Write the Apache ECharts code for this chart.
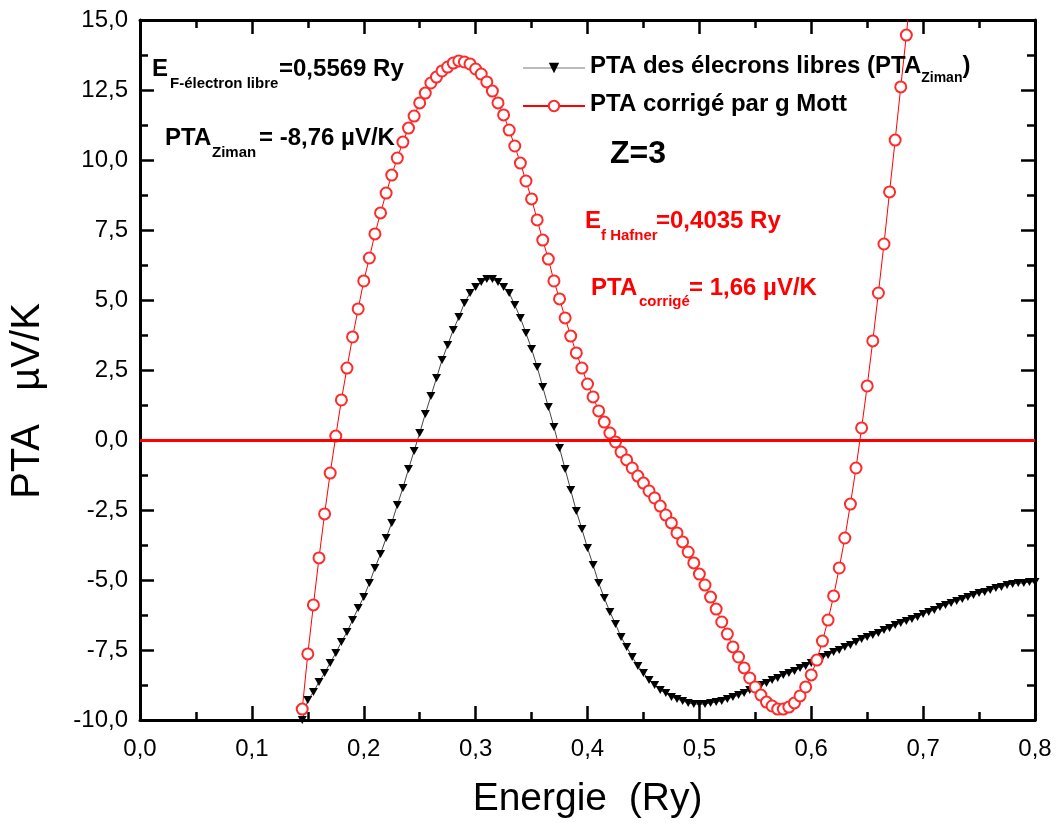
<!DOCTYPE html>
<html>
<head>
<meta charset="utf-8">
<script src="https://cdn.jsdelivr.net/npm/echarts@6/dist/echarts.min.js"></script>
<style>
html,body{margin:0;padding:0;background:#fff;}
#chart{width:1061px;height:830px;}
</style>
</head>
<body>
<div id="chart"></div>
<script>
// Energy grid (Ry)
var energy = [
0.145,0.150,0.155,0.160,0.165,0.170,0.175,0.180,0.185,0.190,
0.195,0.200,0.205,0.210,0.215,0.220,0.225,0.230,0.235,0.240,
0.245,0.250,0.255,0.260,0.265,0.270,0.275,0.280,0.285,0.290,
0.295,0.300,0.305,0.310,0.315,0.320,0.325,0.330,0.335,0.340,
0.345,0.350,0.355,0.360,0.365,0.370,0.375,0.380,0.385,0.390,
0.395,0.400,0.405,0.410,0.415,0.420,0.425,0.430,0.435,0.440,
0.445,0.450,0.455,0.460,0.465,0.470,0.475,0.480,0.485,0.490,
0.495,0.500,0.505,0.510,0.515,0.520,0.525,0.530,0.535,0.540,
0.545,0.550,0.555,0.560,0.565,0.570,0.575,0.580,0.585,0.590,
0.595,0.600,0.605,0.610,0.615,0.620,0.625,0.630,0.635,0.640,
0.645,0.650,0.655,0.660,0.665,0.670,0.675,0.680,0.685,0.690,
0.695,0.700,0.705,0.710,0.715,0.720,0.725,0.730,0.735,0.740,
0.745,0.750,0.755,0.760,0.765,0.770,0.775,0.780,0.785,0.790,
0.795,0.800
];
// PTA des électrons libres (Ziman), µV/K
var ptaZiman = [
-10.0,-9.29,-9.0,-8.64,-8.32,-7.96,-7.61,-7.21,-6.86,-6.43,
-6.0,-5.61,-5.11,-4.57,-4.07,-3.5,-2.96,-2.32,-1.71,-1.04,
-0.39,0.25,0.93,1.57,2.21,2.86,3.39,3.93,4.39,4.89,
5.25,5.46,5.64,5.75,5.75,5.64,5.46,5.25,4.82,4.36,
3.82,3.25,2.61,1.89,1.18,0.46,-0.29,-1.04,-1.79,-2.54,
-3.18,-3.86,-4.46,-5.11,-5.64,-6.14,-6.57,-7.04,-7.39,-7.75,
-8.07,-8.32,-8.57,-8.75,-8.93,-9.04,-9.18,-9.25,-9.32,-9.39,
-9.43,-9.43,-9.43,-9.39,-9.36,-9.32,-9.25,-9.18,-9.11,-9.04,
-8.93,-8.82,-8.75,-8.68,-8.57,-8.5,-8.39,-8.32,-8.25,-8.14,
-8.07,-7.96,-7.86,-7.75,-7.68,-7.57,-7.5,-7.39,-7.32,-7.21,
-7.11,-7.04,-6.96,-6.89,-6.79,-6.71,-6.61,-6.54,-6.46,-6.39,
-6.32,-6.21,-6.14,-6.07,-5.96,-5.89,-5.82,-5.75,-5.68,-5.61,
-5.54,-5.46,-5.43,-5.36,-5.29,-5.25,-5.18,-5.14,-5.11,-5.11,
-5.07,-5.07
];
// PTA corrigé par g Mott, µV/K (same energy grid, first 110 points)
var ptaMott = [
-9.61,-7.64,-5.89,-4.21,-2.64,-1.18,0.14,1.43,2.57,3.68,
4.68,5.68,6.5,7.36,8.11,8.82,9.46,10.07,10.64,11.14,
11.57,12.04,12.39,12.75,12.96,13.18,13.32,13.46,13.54,13.5,
13.43,13.25,13.07,12.79,12.46,12.04,11.61,11.07,10.5,9.89,
9.25,8.61,7.86,7.14,6.46,5.68,5.04,4.36,3.71,3.11,
2.57,2.0,1.54,1.04,0.64,0.25,-0.07,-0.43,-0.71,-1.0,
-1.29,-1.54,-1.82,-2.07,-2.36,-2.68,-2.96,-3.32,-3.64,-4.0,
-4.39,-4.79,-5.18,-5.61,-6.04,-6.5,-6.93,-7.39,-7.75,-8.14,
-8.5,-8.82,-9.11,-9.36,-9.5,-9.61,-9.61,-9.54,-9.39,-9.14,
-8.82,-8.39,-7.86,-7.18,-6.43,-5.57,-4.57,-3.5,-2.29,-1.0,
0.43,1.93,3.54,5.25,7.0,8.86,10.71,12.61,14.46,16.4
];
var seriesNames = ['PTA des élecrons libres (PTA_Ziman)', 'PTA corrigé par g Mott'];
var xTicks = {min: 0, max: 0.8, interval: 0.1};
var yTicks = {min: -10, max: 15, interval: 2.5};

function pairs(xs, ys) {
  var out = [];
  for (var i = 0; i < ys.length; i++) out.push([xs[i], ys[i]]);
  return out;
}
function comma(v) { return v.toFixed(1).replace('.', ','); }

var FONT = '"Liberation Sans", Arial, sans-serif';
var chart = echarts.init(document.getElementById('chart'), null, {renderer: 'canvas'});

function axisCommon() {
  return {
    axisLine: {show: true, onZero: false, lineStyle: {color: '#000', width: 3}},
    axisTick: {show: true, inside: true, length: 14, lineStyle: {color: '#000', width: 2.5}},
    minorTick: {show: true, splitNumber: 2, length: 8, lineStyle: {color: '#000', width: 2.5}},
    splitLine: {show: false},
    minorSplitLine: {show: false}
  };
}

var xBottom = Object.assign(axisCommon(), {
  type: 'value', position: 'bottom', gridIndex: 0,
  min: xTicks.min, max: xTicks.max, interval: xTicks.interval,
  name: 'Energie  (Ry)', nameLocation: 'middle', nameGap: 60,
  nameTextStyle: {fontFamily: FONT, fontSize: 39, color: '#000'},
  axisLabel: {show: true, margin: 17, fontFamily: FONT, fontSize: 24, color: '#000', formatter: comma}
});
var xTop = Object.assign(axisCommon(), {
  type: 'value', position: 'top', gridIndex: 0,
  min: xTicks.min, max: xTicks.max, interval: xTicks.interval,
  axisLabel: {show: false}
});
var yLeft = Object.assign(axisCommon(), {
  type: 'value', position: 'left', gridIndex: 0,
  min: yTicks.min, max: yTicks.max, interval: yTicks.interval,
  name: 'PTA   \u00b5V/K', nameLocation: 'middle', nameGap: 92, nameRotate: 90,
  nameTextStyle: {fontFamily: FONT, fontSize: 40, color: '#000', padding: [0, 62, 0, 0]},
  axisLabel: {show: true, margin: 12, fontFamily: FONT, fontSize: 24, color: '#000', formatter: comma}
});
var yRight = Object.assign(axisCommon(), {
  type: 'value', position: 'right', gridIndex: 0,
  min: yTicks.min, max: yTicks.max, interval: yTicks.interval,
  axisLabel: {show: false}
});

function txt(text, x, baseline, size, color) {
  return {
    type: 'text', left: x, top: baseline - size * 0.9, z: 100,
    style: {text: text, fill: color, font: 'bold ' + size + 'px ' + FONT}
  };
}

var option = {
  backgroundColor: '#fff',
  animation: false,
  grid: {left: 140, right: 26, top: 20, bottom: 110, containLabel: false, outerBoundsMode: 'none'},
  xAxis: [xBottom, xTop],
  yAxis: [yLeft, yRight],
  legend: {
    orient: 'vertical', left: 517, top: 49, itemWidth: 62, itemHeight: 13, itemGap: 7,
    data: [
      {name: seriesNames[0], lineStyle: {color: '#777', width: 1}},
      {name: seriesNames[1]}
    ],
    formatter: function (name) {
      if (name === seriesNames[0]) return '{a|PTA des élecrons libres (PTA}{s|Ziman}{a|)}';
      return '{a|' + name + '}';
    },
    textStyle: {
      color: '#000', fontFamily: FONT, fontWeight: 'bold', fontSize: 24,
      rich: {
        a: {fontFamily: FONT, fontWeight: 'bold', fontSize: 24, lineHeight: 28, verticalAlign: 'top', color: '#000'},
        s: {fontFamily: FONT, fontWeight: 'bold', fontSize: 14, lineHeight: 14, verticalAlign: 'top', padding: [17, 0, 0, 0], color: '#000'}
      }
    }
  },
  series: [
    {
      name: seriesNames[0], type: 'line', xAxisIndex: 0, yAxisIndex: 0,
      data: pairs(energy, ptaZiman),
      symbol: 'triangle', symbolRotate: 180, symbolSize: [9, 8], showAllSymbol: true,
      itemStyle: {color: '#000'},
      lineStyle: {color: '#444', width: 1},
      clip: true, z: 2
    },
    {
      name: seriesNames[1], type: 'line', xAxisIndex: 0, yAxisIndex: 0,
      data: pairs(energy, ptaMott),
      symbol: 'emptyCircle', symbolSize: 11, showAllSymbol: true,
      itemStyle: {color: '#ff2a2a', borderColor: '#ff2a2a', borderWidth: 1},
      lineStyle: {color: '#ff0000', width: 1},
      clip: true, z: 3,
      markLine: {
        silent: true, symbol: ['none', 'none'], label: {show: false},
        lineStyle: {color: '#ff0000', width: 3, type: 'solid'},
        data: [{yAxis: 0}]
      }
    }
  ],
  graphic: [
    txt('E', 152, 79, 24, '#000'),
    txt('F-électron libre', 170, 90, 15, '#000'),
    txt('=0,5569 Ry', 279, 79, 24, '#000'),
    txt('PTA', 165, 148, 24, '#000'),
    txt('Ziman', 212, 159, 15, '#000'),
    txt('= -8,76 \u00b5V/K', 259, 148, 24, '#000'),
    txt('Z=3', 610, 167, 32, '#000'),
    txt('E', 585, 231, 24, '#ff0000'),
    txt('f Hafner', 601, 242, 15, '#ff0000'),
    txt('=0,4035 Ry', 656, 231, 24, '#ff0000'),
    txt('PTA', 591, 298, 24, '#ff0000'),
    txt('corrigé', 639, 308, 15, '#ff0000'),
    txt('= 1,66 \u00b5V/K', 689, 298, 24, '#ff0000')
  ]
};
chart.setOption(option);
</script>
</body>
</html>
